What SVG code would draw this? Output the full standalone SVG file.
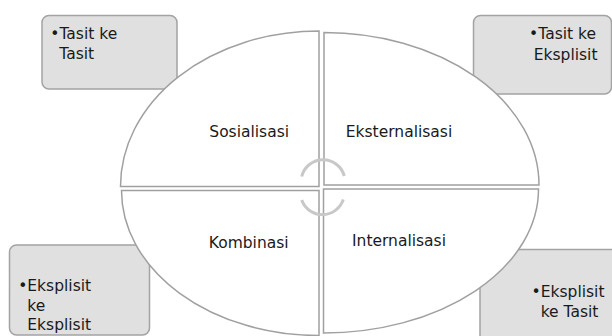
<svg xmlns="http://www.w3.org/2000/svg" width="612" height="336" viewBox="0 0 612 336">
  <style>
    .box { fill: #e0e0e0; stroke: #a3a3a3; stroke-width: 1.5; }
    .quad { fill: #ffffff; stroke: #a0a0a0; stroke-width: 1.5; stroke-linejoin: miter; }
    .t { font-family: "DejaVu Sans", "Liberation Sans", sans-serif; font-size: 15.5px; fill: #1a1a1a; }
    .c { text-anchor: middle; }
    .e { text-anchor: end; }
    .arc { fill: none; stroke: #c8c8c8; stroke-width: 3; }
  </style>
  <rect width="612" height="336" fill="#ffffff"/>

  <g id="box-tl">
    <rect class="box" x="42" y="15.5" width="135" height="73.5" rx="7"/>
    <text class="t" x="50.3" y="38.5">•Tasit ke</text>
    <text class="t" x="59.3" y="58.5">Tasit</text>
  </g>
  <g id="box-tr">
    <rect class="box" x="473.5" y="15.5" width="138" height="78.5" rx="7"/>
    <text class="t e" x="596" y="38.5">•Tasit ke</text>
    <text class="t e" x="597.5" y="59.5">Eksplisit</text>
  </g>
  <g id="box-bl">
    <rect class="box" x="9.5" y="245" width="140" height="90" rx="7"/>
    <text class="t" x="18.2" y="291">•Eksplisit</text>
    <text class="t" x="27.3" y="310.5">ke</text>
    <text class="t" x="27.3" y="330">Eksplisit</text>
  </g>
  <g id="box-br">
    <rect class="box" x="480" y="249.5" width="145" height="100" rx="7"/>
    <text class="t" x="531.6" y="296.5">•Eksplisit</text>
    <text class="t" x="540.7" y="316.5">ke Tasit</text>
  </g>

  <g id="q-sosialisasi">
    <path class="quad" d="M 319 186.5 L 120.5 186.5 A 198.5 155.5 0 0 1 319 31 Z"/>
    <text class="t c" x="249.2" y="136.7">Sosialisasi</text>
  </g>
  <g id="q-eksternalisasi">
    <path class="quad" d="M 324 185 L 324 32.5 A 215 152.5 0 0 1 539 185 Z"/>
    <text class="t c" x="399" y="136.5">Eksternalisasi</text>
  </g>
  <g id="q-kombinasi">
    <path class="quad" d="M 319 190.5 L 319 335.5 A 197.5 145 0 0 1 121.5 190.5 Z"/>
    <text class="t c" x="248.7" y="247.5">Kombinasi</text>
  </g>
  <g id="q-internalisasi">
    <path class="quad" d="M 323.5 189 L 538.5 189 A 215 144 0 0 1 323.5 333 Z"/>
    <text class="t c" x="399" y="245.5">Internalisasi</text>
  </g>

  <g id="connectors">
    <path class="arc" d="M 301.7 176.5 A 22 22 0 0 1 344.3 176"/>
    <path class="arc" d="M 301.7 200 A 22 22 0 0 0 343.3 199.5"/>
  </g>
</svg>
